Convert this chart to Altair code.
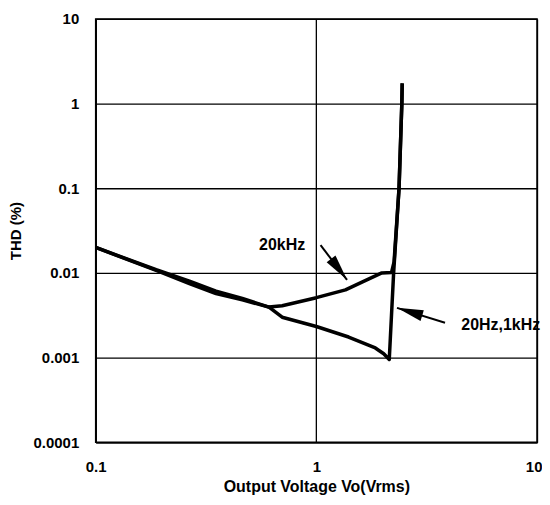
import altair as alt
import pandas as pd

# ---- data ----
x_20k = [0.1, 0.188, 0.266, 0.351, 0.462, 0.61, 0.70, 1.0, 1.355, 1.61, 1.98, 2.19, 2.25, 2.37, 2.44, 2.45]
y_20k = [0.02, 0.0109, 0.0080, 0.0061, 0.0050, 0.00395, 0.0041, 0.0051, 0.0063, 0.0078, 0.0100, 0.0101, 0.0135, 0.1, 1.0, 1.73]

x_lo = [0.1, 0.188, 0.266, 0.351, 0.462, 0.61, 0.70, 1.0, 1.40, 1.85, 2.02, 2.14, 2.24, 2.37, 2.44, 2.45]
y_lo = [0.02, 0.0107, 0.0075, 0.0057, 0.0048, 0.00395, 0.0030, 0.00233, 0.00175, 0.0013, 0.00111, 0.00095, 0.01, 0.1, 1.0, 1.73]

x_ticks = [0.1, 1, 10]
y_ticks = [0.0001, 0.001, 0.01, 0.1, 1, 10]

label_text = ["20kHz", "20Hz,1kHz"]
label_x = [0.55, 4.54]
label_y = [0.0213, 0.00244]

arrow_x0 = [1.045, 3.83]
arrow_y0 = [0.0213, 0.00258]
arrow_x1 = [1.377, 2.32]
arrow_y1 = [0.00828, 0.00387]
arrow_angle = [142.8, 287.2]

rows = []
for i, (a, b) in enumerate(zip(x_20k, y_20k)):
    rows.append({"series": "20kHz", "x": a, "y": b, "o": i})
for i, (a, b) in enumerate(zip(x_lo, y_lo)):
    rows.append({"series": "20Hz,1kHz", "x": a, "y": b, "o": i})
df = pd.DataFrame(rows)

labels = pd.DataFrame({"t": label_text, "x": label_x, "y": label_y})
arrows = pd.DataFrame({"x0": arrow_x0, "y0": arrow_y0, "x1": arrow_x1, "y1": arrow_y1, "a": arrow_angle})

FONT = "Liberation Sans"

xs = alt.Scale(type="log", domain=[0.1, 10])
ys = alt.Scale(type="log", domain=[0.0001, 10])

xax = alt.Axis(values=x_ticks, format="~g", title="Output Voltage  Vo(Vrms)",
               grid=True, ticks=False, labelPadding=17, titlePadding=4,
               labelFontSize=15, labelFont=FONT, labelFontWeight="bold",
               titleFontSize=16, titleFont=FONT, titleFontWeight="bold",
               labelColor="black", titleColor="black", labelFlush=False,
               labelAlign=alt.condition("datum.value == 10", alt.value("right"), alt.value("center")),
               labelOffset=alt.condition("datum.value == 10", alt.value(5), alt.value(0)))
yax = alt.Axis(values=y_ticks, format="~g", title="THD (%)",
               grid=True, ticks=False, labelPadding=17, titlePadding=10,
               labelFontSize=15, labelFont=FONT, labelFontWeight="bold",
               titleFontSize=15, titleFont=FONT, titleFontWeight="bold",
               labelColor="black", titleColor="black", labelFlush=False)

lines = alt.Chart(df).mark_line(color="black", strokeWidth=3.5, strokeJoin="round").encode(
    x=alt.X("x:Q", scale=xs, axis=xax),
    y=alt.Y("y:Q", scale=ys, axis=yax),
    detail="series:N",
    order="o:Q",
)

shafts = alt.Chart(arrows).mark_rule(color="black", strokeWidth=2).encode(
    x=alt.X("x0:Q", scale=xs), y=alt.Y("y0:Q", scale=ys),
    x2="x1:Q", y2="y1:Q",
)

heads = alt.Chart(arrows).mark_point(
    shape="M0,0L0.42,2L-0.42,2Z", filled=True, color="black", opacity=1, size=700,
    strokeWidth=0
).encode(
    x=alt.X("x1:Q", scale=xs), y=alt.Y("y1:Q", scale=ys),
    angle=alt.Angle("a:Q", scale=None),
)

texts = alt.Chart(labels).mark_text(
    align="left", baseline="middle", font=FONT, fontSize=16, fontWeight="bold", color="black"
).encode(
    x=alt.X("x:Q", scale=xs), y=alt.Y("y:Q", scale=ys), text="t:N",
)

chart = alt.layer(lines, shafts, heads, texts).properties(
    width=443, height=425,
    autosize=alt.AutoSizeParams(type="none"),
    padding={"left": 88, "top": 10, "right": 5, "bottom": 55},
).configure_axis(
    gridColor="black", gridOpacity=1, gridWidth=1.3,
    domainColor="black", domainWidth=1.5,
).configure_view(stroke="black", strokeWidth=1.5)

chart.save("out.html", embed_options={"renderer": "svg", "actions": False})
